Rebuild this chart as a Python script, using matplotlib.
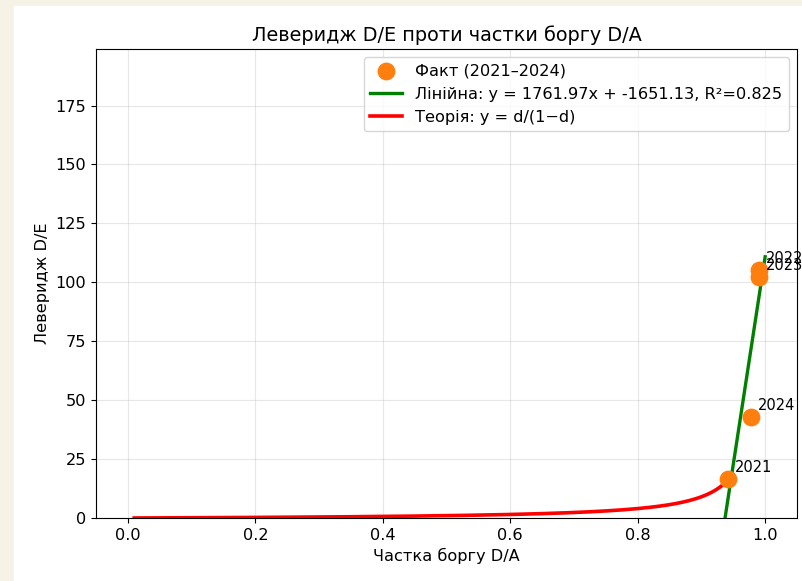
import numpy as np
import matplotlib.pyplot as plt
from matplotlib.patches import Rectangle

years = ["2021", "2022", "2023", "2024"]
debt_share = [0.9424, 0.9906, 0.9903, 0.9776]
leverage = [16.4, 105.4, 102.1, 42.8]

slope = 1761.97
intercept = -1651.13
r2 = 0.825

plt.rcParams["font.size"] = 11.6

W, H = 802, 581
fig = plt.figure(figsize=(W / 100, H / 100), dpi=100, facecolor="#f6f3e6")
fig.patches.append(Rectangle((14 / W, 0), 1 - 14 / W, 1 - 6 / H,
                             transform=fig.transFigure, color="white", zorder=-1))

ax = fig.add_axes([96 / W, 1 - 518 / H, (797 - 96) / W, (518 - 49) / H])

ax.scatter(debt_share, leverage, s=140, color="#ff7f0e", zorder=3,
           label="Факт (2021–2024)")
for yr, x, y in zip(years, debt_share, leverage):
    ax.annotate(yr, (x, y), xytext=(5, 5), textcoords="offset points", fontsize=10.5)

xx = np.linspace(0, 1, 200)
ax.plot(xx, slope * xx + intercept, color="green", lw=2.4,
        label=f"Лінійна: y = {slope:.2f}x + {intercept:.2f}, R²={r2:.3f}")

dd = np.linspace(0.01, 0.947, 300)
ax.plot(dd, dd / (1 - dd), color="red", lw=2.6, label="Теорія: y = d/(1−d)")

ax.set_ylim(0, 199)
ax.set_xlim(-0.05, 1.05)
ax.grid(True, alpha=0.3)
ax.set_title("Леверидж D/E проти частки боргу D/A", fontsize=13.9)
ax.set_xlabel("Частка боргу D/A")
ax.set_ylabel("Леверидж D/E")
ax.legend(loc="upper right")

fig.savefig("out.png", dpi=100, facecolor=fig.get_facecolor())
